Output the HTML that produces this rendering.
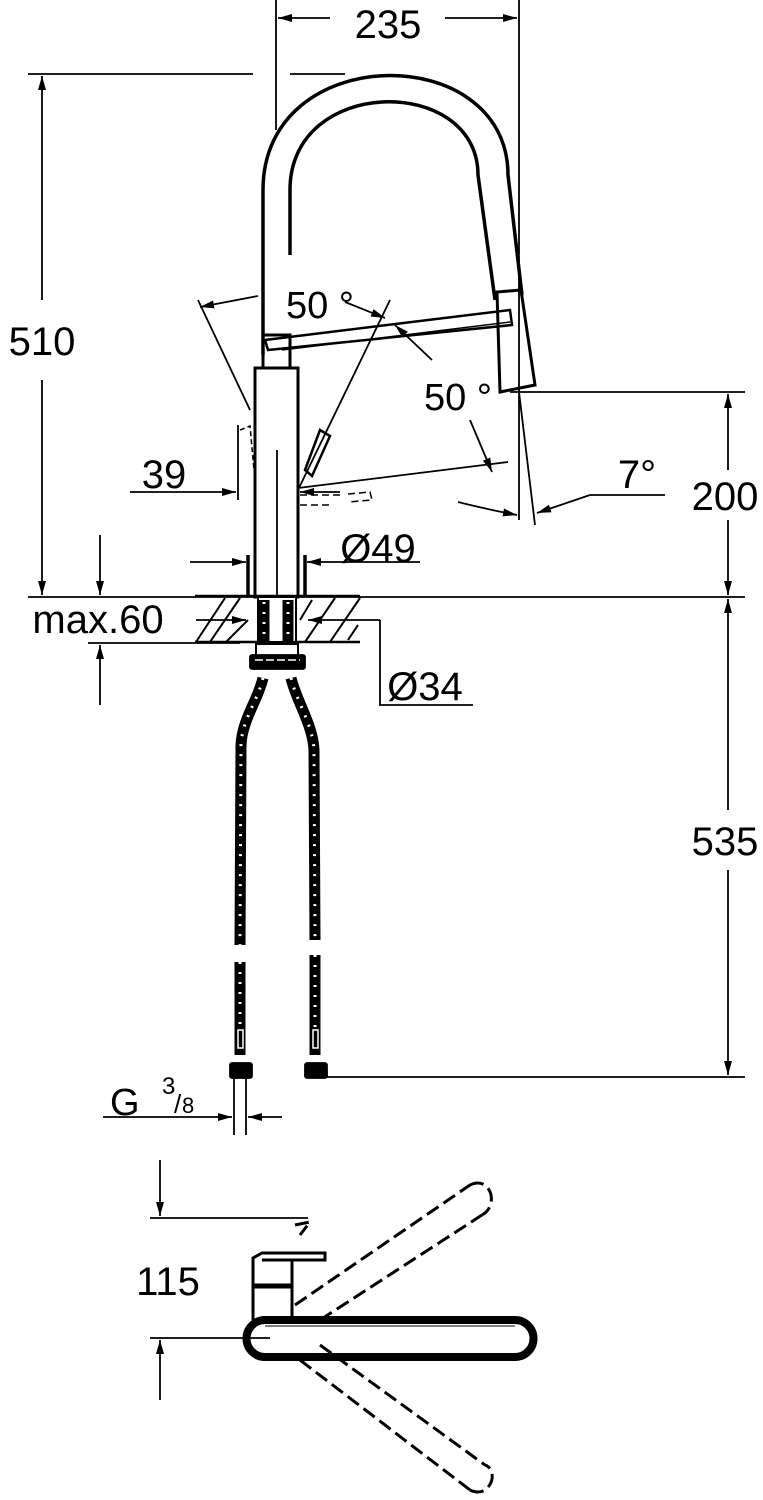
<!DOCTYPE html>
<html><head><style>html,body{margin:0;padding:0;background:#fff}svg{display:block}</style></head><body>
<svg width="763" height="1500" viewBox="0 0 763 1500" xmlns="http://www.w3.org/2000/svg" font-family="Liberation Sans, sans-serif">
<defs>
<marker id="a" viewBox="0 0 10 10" refX="10" refY="5" markerWidth="14" markerHeight="8" markerUnits="userSpaceOnUse" orient="auto-start-reverse" preserveAspectRatio="none"><path d="M0,0 L10,5 L0,10z" fill="#000"/></marker>
</defs>
<g stroke="#000" fill="none" stroke-width="1.8">
<!-- 235 -->
<line x1="276" y1="0" x2="276" y2="130"/>
<line x1="519" y1="0" x2="519" y2="520"/>
<line x1="278" y1="18" x2="330" y2="18" marker-start="url(#a)"/>
<line x1="445" y1="18" x2="517" y2="18" marker-end="url(#a)"/>
<!-- 510 -->
<line x1="28" y1="74" x2="253" y2="74"/>
<line x1="290" y1="74" x2="345" y2="74"/>
<line x1="42" y1="76" x2="42" y2="300" marker-start="url(#a)"/>
<line x1="42" y1="380" x2="42" y2="595" marker-end="url(#a)"/>
<line x1="28" y1="597" x2="745" y2="597"/>
<!-- 200 / 535 -->
<line x1="510" y1="392" x2="745" y2="392"/>
<line x1="728" y1="394" x2="728" y2="470" marker-start="url(#a)"/>
<line x1="728" y1="520" x2="728" y2="595" marker-end="url(#a)"/>
<line x1="728" y1="599" x2="728" y2="810" marker-start="url(#a)"/>
<line x1="728" y1="870" x2="728" y2="1075" marker-end="url(#a)"/>
<line x1="320" y1="1077" x2="745" y2="1077"/>
<!-- spout -->
<path d="M263,355 V190 C263,40 508,40 508,175 L522,295" stroke-width="3.5"/>
<path d="M290,255 V190 C290,75 478,75 478,175 L495,300" stroke-width="3.5"/>
<path d="M497,292 L521,290 L535,385 L500,392 Z" stroke-width="3"/>
<path d="M265,340 L510,310 L512,325 L268,350 Z" stroke-width="2.5"/>
<line x1="282" y1="350" x2="510" y2="322" stroke-width="1.5"/>
<!-- body -->
<rect x="263" y="335" width="27" height="33" stroke-width="3"/>
<rect x="255" y="368" width="43" height="229" stroke-width="3"/>
<line x1="248" y1="555" x2="248" y2="597" stroke-width="3.5"/>
<line x1="305" y1="555" x2="305" y2="597" stroke-width="3.5"/>
<line x1="277" y1="450" x2="277" y2="597"/>
<!-- 50 deg left -->
<line x1="198" y1="300" x2="250" y2="410"/>
<line x1="200" y1="307" x2="258" y2="296" marker-start="url(#a)"/>
<line x1="390" y1="300" x2="298" y2="490"/>
<line x1="345" y1="302" x2="385" y2="318" marker-end="url(#a)"/>
<line x1="432" y1="360" x2="395" y2="325" marker-end="url(#a)"/>
<path d="M305,470 L320,430 L330,436 L312,476 Z" stroke-width="2.5"/>
<path d="M240,430 L250,426 L254,470" stroke-width="1.5" stroke-dasharray="5,3"/>
<line x1="298" y1="488" x2="508" y2="462"/>
<path d="M300,495 H340 M300,505 H330 M348,494 L370,492 L372,500 L348,502" stroke-width="1.5" stroke-dasharray="7,4"/>
<line x1="470" y1="420" x2="492" y2="472" marker-end="url(#a)"/>
<!-- 7 deg -->
<line x1="519" y1="392" x2="535" y2="525"/>
<path d="M458,502 Q490,510 517,515" marker-end="url(#a)"/>
<line x1="590" y1="495" x2="537" y2="513" marker-end="url(#a)"/>
<line x1="590" y1="495" x2="665" y2="495"/>
<!-- 39 -->
<line x1="238" y1="425" x2="238" y2="500"/>
<line x1="130" y1="492" x2="236" y2="492" marker-end="url(#a)"/>
<line x1="340" y1="492" x2="300" y2="492" marker-end="url(#a)"/>
<!-- 49 -->
<line x1="190" y1="562" x2="246" y2="562" marker-end="url(#a)"/>
<line x1="420" y1="562" x2="307" y2="562" marker-end="url(#a)"/>
<!-- countertop -->
<line x1="195" y1="596" x2="360" y2="596" stroke-width="2.5"/>
<line x1="195" y1="642" x2="360" y2="642" stroke-width="2.5"/>
<path d="M196,642 L225,598 M210,642 L240,598 M248,620 L226,642 M312,600 L300,620 M335,598 L305,642 M360,598 L330,642 M358,625 L348,640" stroke-width="2"/>
<line x1="196" y1="620" x2="246" y2="620" marker-end="url(#a)"/>
<line x1="380" y1="620" x2="308" y2="620" marker-end="url(#a)"/>
<path d="M380,620 V705 H473"/>
<!-- max 60 -->
<line x1="88" y1="643" x2="240" y2="643"/>
<line x1="100" y1="535" x2="100" y2="595" marker-end="url(#a)"/>
<line x1="100" y1="705" x2="100" y2="645" marker-end="url(#a)"/>
<!-- connector -->
<rect x="258" y="597" width="38" height="45" stroke-width="2" fill="#fff"/>
<rect x="250" y="655" width="55" height="14" fill="#000" rx="2"/>
<rect x="256" y="644" width="42" height="12" stroke-width="2"/>
<line x1="255" y1="660" x2="300" y2="660" stroke="#fff" stroke-width="1.5" stroke-dasharray="8,3"/>
<!-- hoses -->
<g stroke="#000" stroke-width="11">
<path d="M263,678 C258,700 242,720 241,745 L240,945"/>
<path d="M240,962 V1055"/>
<path d="M291,678 C296,700 313,725 314,750 L315,940"/>
<path d="M315,955 V1055"/>
<line x1="264" y1="600" x2="264" y2="642"/>
<line x1="288" y1="600" x2="288" y2="642"/>
</g>
<g stroke="#fff" stroke-width="3" stroke-dasharray="2,8">
<path d="M263,678 C258,700 242,720 241,745 L240,945"/>
<path d="M240,962 V1030"/>
<path d="M291,678 C296,700 313,725 314,750 L315,940"/>
<path d="M315,955 V1030"/>
<line x1="264" y1="602" x2="264" y2="642"/>
<line x1="288" y1="602" x2="288" y2="642"/>
</g>
<rect x="238" y="1030" width="5" height="18" stroke="#fff" stroke-width="1.5"/>
<rect x="313" y="1030" width="5" height="18" stroke="#fff" stroke-width="1.5"/>
<rect x="230" y="1063" width="22" height="15" fill="#000" rx="2"/>
<rect x="305" y="1063" width="22" height="15" fill="#000" rx="2"/>
<!-- G 3/8 -->
<line x1="234" y1="1078" x2="234" y2="1135"/>
<line x1="246" y1="1078" x2="246" y2="1135"/>
<line x1="103" y1="1117" x2="232" y2="1117" marker-end="url(#a)"/>
<line x1="282" y1="1117" x2="248" y2="1117" marker-end="url(#a)"/>
<!-- 115 -->
<line x1="150" y1="1218" x2="308" y2="1218"/>
<line x1="150" y1="1338" x2="270" y2="1338"/>
<line x1="160" y1="1160" x2="160" y2="1216" marker-end="url(#a)"/>
<line x1="160" y1="1400" x2="160" y2="1340" marker-end="url(#a)"/>
<!-- plan view -->
<g stroke-width="3" stroke-dasharray="14,6">
<path d="M295,1305 L470,1185 M320,1320 L482,1215"/>
<path d="M470,1185 C490,1175 500,1205 482,1215"/>
<path d="M300,1360 L470,1490 M320,1345 L485,1465"/>
<path d="M470,1490 C490,1500 500,1470 485,1465"/>
<path d="M295,1225 L310,1222 L300,1235" />
</g>
<path d="M253,1300 V1258 L262,1253 H325 V1260 H262" stroke-width="3"/>
<path d="M253,1262 V1320 M292,1260 V1322" stroke-width="3"/>
<path d="M253,1286 H292" stroke-width="5"/>
<path d="M265,1320 H515 A18,18 0 0 1 515,1357 H265 A18,18 0 0 1 265,1320 Z" stroke-width="8"/>
<path d="M265,1326 H515" stroke-width="1"/>
</g>
<g font-size="40" fill="#000" text-anchor="middle">
<text x="388" y="38">235</text>
<text x="42" y="355">510</text>
<text x="320" y="318" font-size="38">50 °</text>
<text x="458" y="410" font-size="38">50 °</text>
<text x="164" y="488">39</text>
<text x="637" y="488">7°</text>
<text x="725" y="510">200</text>
<text x="378" y="562">Ø49</text>
<text x="98" y="633">max.60</text>
<text x="425" y="700">Ø34</text>
<text x="725" y="855">535</text>
<text x="168" y="1295">115</text>
<text x="110" y="1115" text-anchor="start" font-size="38">G</text>
<text x="162" y="1094" text-anchor="start" font-size="24">3</text>
<text x="174" y="1113" text-anchor="start" font-size="26">/</text>
<text x="182" y="1113" text-anchor="start" font-size="22">8</text>
</g>
</svg>
</body></html>
